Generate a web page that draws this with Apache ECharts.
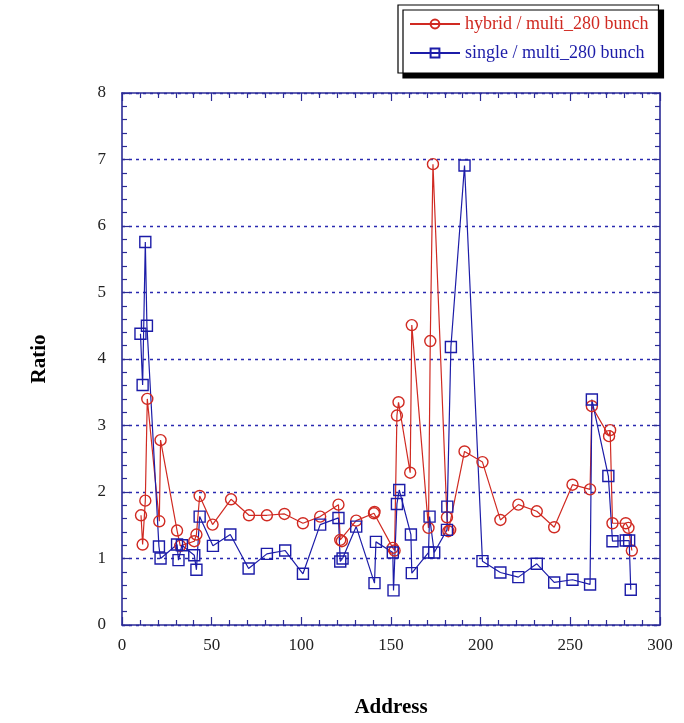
<!DOCTYPE html>
<html><head><meta charset="utf-8">
<script src="https://cdn.jsdelivr.net/npm/echarts@6/dist/echarts.min.js"></script>
<style>html,body{margin:0;padding:0;background:#fff}#c{width:684px;height:723px}</style>
</head><body><div id="c"></div>
<script>
const xTicks = [0, 50, 100, 150, 200, 250, 300];
const yTicks = [0, 1, 2, 3, 4, 5, 6, 7, 8];
const seriesNames = ['hybrid / multi_280 bunch', 'single / multi_280 bunch'];

const hybridX = [10.6,11.5,13,14.1,20.8,21.5,30.7,32.5,40.3,41.5,43.3,50.5,60.8,70.8,80.8,90.6,100.9,110.5,120.7,121.7,122.6,130.6,140.5,140.8,151,152,153.3,154.2,160.7,161.6,170.9,171.9,173.4,181.2,182,183,191,201,211,221,231.3,241,251.2,261,262,271.6,272.2,273.5,280.9,282.4,284.3];
const hybridY = [1.65,1.21,1.87,3.40,1.56,2.78,1.42,1.19,1.26,1.36,1.94,1.51,1.89,1.65,1.65,1.67,1.53,1.63,1.81,1.28,1.26,1.57,1.68,1.70,1.16,1.12,3.15,3.35,2.29,4.51,1.46,4.27,6.93,1.62,1.41,1.43,2.61,2.45,1.58,1.81,1.71,1.47,2.11,2.04,3.29,2.84,2.93,1.53,1.53,1.46,1.12];

const singleX = [10.3,11.5,13,13.9,20.6,21.5,30.7,31.5,33.4,40.3,41.5,43.3,50.7,60.4,70.6,80.8,91,100.9,110.5,120.7,121.7,123,130.6,140.8,141.6,151,151.4,153.3,154.6,161.1,161.6,170.9,171.5,174.1,181.2,181.4,183.4,191,201,211,221,231.3,241,251.2,261,262,271.2,273.5,280.9,282.8,283.7];
const singleY = [4.38,3.61,5.76,4.50,1.18,1.00,1.21,0.975,1.20,1.05,0.83,1.63,1.19,1.36,0.85,1.07,1.12,0.77,1.51,1.61,0.955,1.00,1.48,0.63,1.25,1.09,0.52,1.82,2.03,1.36,0.78,1.09,1.63,1.09,1.43,1.78,4.18,6.91,0.96,0.79,0.72,0.92,0.64,0.68,0.61,3.39,2.24,1.26,1.27,1.27,0.53];

const RED = '#d02a22', BLUE = '#1c1ca8', AXIS = '#2b2b96';
const FONT = '"Liberation Serif", "DejaVu Serif", serif';
const pairs = (xs, ys) => xs.map((x, i) => [x, ys[i]]);

const chart = echarts.init(document.getElementById('c'), null, {renderer: 'canvas'});
const axisBase = {
  axisLine: {show: true, onZero: false, lineStyle: {color: AXIS, width: 1.6}},
  axisTick: {show: true, inside: true, length: 8, lineStyle: {color: AXIS, width: 1.2}},
  minorTick: {show: true, splitNumber: 5, length: 5, lineStyle: {color: AXIS, width: 1.2}},
};
chart.setOption({
  animation: false,
  backgroundColor: '#fff',
  grid: {left: 122, right: 24, top: 93, bottom: 91, containLabel: false},
  legend: {
    orient: 'vertical', left: 398, top: 5, itemGap: 11, itemWidth: 50, itemHeight: 11,
    padding: [10, 10, 11, 11],
    backgroundColor: '#fff', borderColor: '#000', borderWidth: 1.2,
    shadowColor: '#000', shadowBlur: 0, shadowOffsetX: 5, shadowOffsetY: 5,
    textStyle: {fontFamily: FONT, fontSize: 18, padding: [0, 0, 0, 0]},
    data: [
      {name: seriesNames[0], textStyle: {color: RED}},
      {name: seriesNames[1], textStyle: {color: BLUE}}
    ]
  },
  xAxis: [
    Object.assign({type: 'value', min: xTicks[0], max: xTicks[xTicks.length - 1], interval: 50, position: 'bottom',
      name: 'Address', nameLocation: 'middle', nameGap: 72,
      nameTextStyle: {fontFamily: FONT, fontSize: 21, fontWeight: 'bold', color: '#000'},
      axisLabel: {fontFamily: FONT, fontSize: 17, color: '#222', margin: 12},
      splitLine: {show: false}}, axisBase),
    Object.assign({type: 'value', min: xTicks[0], max: xTicks[xTicks.length - 1], interval: 50, position: 'top',
      axisLabel: {show: false}, splitLine: {show: false}}, axisBase)
  ],
  yAxis: [
    Object.assign({type: 'value', min: yTicks[0], max: yTicks[yTicks.length - 1], interval: 1, position: 'left',
      name: 'Ratio', nameLocation: 'middle', nameGap: 72, nameRotate: 90,
      nameTextStyle: {fontFamily: FONT, fontSize: 21, fontWeight: 'bold', color: '#000'},
      axisLabel: {fontFamily: FONT, fontSize: 17, color: '#222', margin: 16},
      splitLine: {show: true, lineStyle: {color: '#2a2ab0', type: [3, 4], width: 1.3}}}, axisBase),
    Object.assign({type: 'value', min: yTicks[0], max: yTicks[yTicks.length - 1], interval: 1, position: 'right',
      axisLabel: {show: false}, splitLine: {show: false}}, axisBase)
  ],
  series: [
    {name: seriesNames[0], type: 'line', data: pairs(hybridX, hybridY),
      symbol: 'circle', symbolSize: 11, showAllSymbol: true,
      lineStyle: {color: RED, width: 1.2},
      itemStyle: {color: 'rgba(255,255,255,0)', borderColor: RED, borderWidth: 1.4}},
    {name: seriesNames[1], type: 'line', data: pairs(singleX, singleY),
      symbol: 'rect', symbolSize: 11, showAllSymbol: true,
      lineStyle: {color: BLUE, width: 1.2},
      itemStyle: {color: 'rgba(255,255,255,0)', borderColor: BLUE, borderWidth: 1.4}}
  ]
});
</script></body></html>
